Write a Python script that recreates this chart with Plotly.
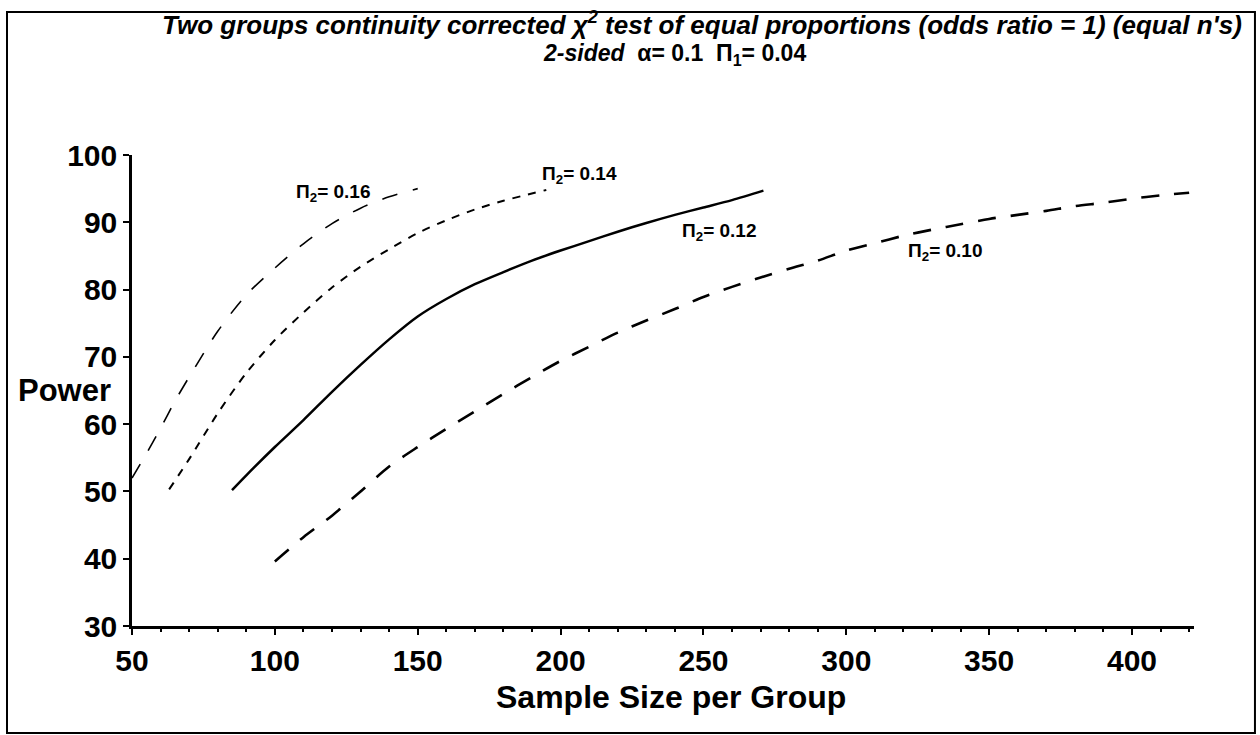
import plotly.graph_objects as go

# ---- data ----
n_016 = [50, 55, 60, 65, 70, 80, 90, 100, 110, 120, 130, 140, 150]
p_016 = [52.0, 55.6, 59.4, 63.4, 67.0, 73.8, 79.2, 83.2, 86.8, 89.8, 92.1, 93.8, 95.0]

n_014 = [63, 70, 80, 90, 100, 110, 120, 130, 140, 150, 160, 170, 180, 195]
p_014 = [50.3, 54.8, 61.6, 67.6, 72.5, 76.6, 80.3, 83.4, 86.0, 88.4, 90.3, 91.9, 93.2, 94.8]

n_012 = [85, 90, 100, 110, 120, 130, 140, 150, 160, 170, 180, 190, 200, 210, 220, 230, 240, 250, 260, 271]
p_012 = [50.2, 52.4, 56.6, 60.6, 64.8, 68.8, 72.6, 76.0, 78.6, 80.8, 82.6, 84.3, 85.8, 87.2, 88.6, 89.9, 91.1, 92.2, 93.3, 94.7]

n_010 = [100, 110, 120, 130, 140, 150, 160, 170, 180, 190, 200, 210, 220, 230, 240, 250, 260,
         270, 280, 290, 300, 310, 320, 330, 340, 350, 360, 370, 380, 390, 400, 410, 420]
p_010 = [39.6, 43.2, 46.4, 50.0, 53.7, 56.6, 59.3, 61.9, 64.5, 67.0, 69.4, 71.5, 73.6, 75.4, 77.1,
         78.9, 80.4, 81.8, 83.1, 84.3, 85.8, 86.9, 88.0, 88.9, 89.7, 90.5, 91.1, 91.7, 92.4, 92.9,
         93.5, 94.0, 94.4]

labels = ["Π<sub>2</sub>= 0.16", "Π<sub>2</sub>= 0.14", "Π<sub>2</sub>= 0.12", "Π<sub>2</sub>= 0.10"]
label_x = [120.4, 206.5, 255.7, 334.6]
label_y = [94.3, 97.0, 88.6, 85.6]

x_ticks = [50, 100, 150, 200, 250, 300, 350, 400]
y_ticks = [30, 40, 50, 60, 70, 80, 90, 100]

FONT = "Liberation Sans, Arial, Helvetica, sans-serif"

fig = go.Figure()
fig.add_trace(go.Scatter(x=n_016, y=p_016, mode="lines", line_shape="spline",
                         line=dict(color="black", width=1.6, dash="16px,16px", smoothing=0.8),
                         showlegend=False))
fig.add_trace(go.Scatter(x=n_014, y=p_014, mode="lines", line_shape="spline",
                         line=dict(color="black", width=2, dash="8px,8px", smoothing=0.8),
                         showlegend=False))
fig.add_trace(go.Scatter(x=n_012, y=p_012, mode="lines", line_shape="spline",
                         line=dict(color="black", width=2.5, smoothing=0.8), showlegend=False))
fig.add_trace(go.Scatter(x=n_010, y=p_010, mode="lines", line_shape="spline",
                         line=dict(color="black", width=2.6, dash="18px,15px", smoothing=0.8),
                         showlegend=False))

for t, lx, ly in zip(labels, label_x, label_y):
    fig.add_annotation(x=lx, y=ly, text=t, showarrow=False,
                       font=dict(family=FONT, size=19, color="black", weight="bold"))

fig.update_xaxes(range=[50, 421.7], tickvals=x_ticks, ticktext=[str(v) for v in x_ticks],
                 showgrid=False, zeroline=False, showline=True, linecolor="black", linewidth=2.5,
                 ticks="outside", ticklen=6, tickwidth=2, tickcolor="black",
                 minor=dict(dtick=10, ticks="outside", ticklen=3, tickwidth=2, tickcolor="black"),
                 tickfont=dict(family=FONT, size=30, color="black", weight="bold"))
fig.update_yaxes(range=[30, 100], tickvals=y_ticks, ticktext=[str(v) for v in y_ticks],
                 showgrid=False, zeroline=False, showline=True, linecolor="black", linewidth=2.5,
                 ticks="outside", ticklen=6, tickwidth=2, tickcolor="black",
                 tickfont=dict(family=FONT, size=30, color="black", weight="bold"))

# axis titles
fig.add_annotation(xref="paper", yref="paper", x=0.5075, y=-0.1507, text="Sample Size per Group",
                   showarrow=False, xanchor="center", yanchor="middle",
                   font=dict(family=FONT, size=32, color="black", weight="bold"))
fig.add_annotation(xref="paper", yref="paper", x=-0.064, y=0.501, text="Power",
                   showarrow=False, xanchor="center", yanchor="middle",
                   font=dict(family=FONT, size=31, color="black", weight="bold"))

# title lines
fig.add_annotation(xref="paper", yref="paper", x=0.5367, y=1.28,
                   text="Two groups continuity corrected χ<sup>2</sup> test of equal proportions (odds ratio = 1) (equal n's)",
                   showarrow=False, xanchor="center", yanchor="middle",
                   font=dict(family=FONT, size=26, color="black", weight="bold", style="italic"))
fig.add_annotation(xref="paper", yref="paper", x=0.5104, y=1.2125,
                   text="<i>2-sided</i>  α= 0.1  Π<sub>1</sub>= 0.04",
                   showarrow=False, xanchor="center", yanchor="middle",
                   font=dict(family=FONT, size=23, color="black", weight="bold"))

# outer frame
fig.add_shape(type="rect", xref="paper", yref="paper", x0=-0.1177, x1=1.0574, y0=-0.2272, y1=1.3036,
              line=dict(color="black", width=2), fillcolor="rgba(0,0,0,0)", layer="above")

fig.update_layout(width=1260, height=735, margin=dict(l=132, r=66, t=155, b=109),
                  paper_bgcolor="white", plot_bgcolor="white")

fig.write_html("out.html")
